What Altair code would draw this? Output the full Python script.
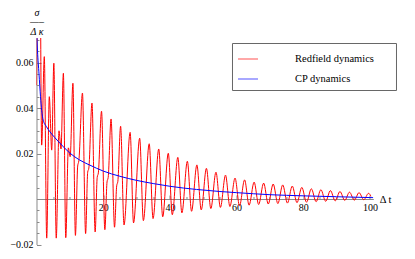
import altair as alt
import pandas as pd

# ---------------- data ----------------
series_names = ["Redfield dynamics", "CP dynamics"]
series_colors = ["#ff0000", "#0000ff"]

# Redfield dynamics: turning points of the oscillating curve
red_t = [0, 0.9, 1.55, 2.34, 3.06, 3.84, 4.56, 5.20, 5.92, 6.75, 7.35, 8.06,
         8.78, 9.55, 10.10, 10.92, 11.67, 12.35, 12.70, 13.78, 14.73, 15.35,
         15.70, 16.64, 17.59, 18.20, 18.55, 19.50, 20.50, 21.15, 21.50, 22.36,
         23.40, 24.05, 24.40, 25.22, 26.25, 28.08, 29.10, 30.94, 32.05, 33.80,
         34.95, 36.66, 37.85, 39.52, 40.72, 42.38, 43.60, 45.24, 46.50, 48.10,
         49.40, 50.96, 52.28, 53.82, 55.15, 56.68, 58.00, 59.54, 60.88, 62.40,
         63.75, 65.26, 66.62, 68.12, 69.50, 70.98, 72.38, 73.84, 75.25, 76.70,
         78.12, 79.56, 80.98, 82.42, 83.85, 85.28, 86.72, 88.14, 89.58, 91.00,
         92.45, 93.86, 95.30, 96.72, 98.15, 99.58, 100.3]
red_v = [0.05, 0.14, 0.0237, 0.0626, -0.0172, 0.045, 0.0215, 0.0597, -0.0172,
         0.030, 0.022, 0.0553, -0.0170, 0.0225, 0.0186, 0.0509, -0.0160, 0.0145,
         0.0168, 0.0466, -0.0152, 0.0118, 0.0136, 0.0422, -0.0145, 0.0095,
         0.0115, 0.0386, -0.0135, 0.0075, 0.0095, 0.0352, -0.0124, 0.0058,
         0.0078, 0.0320, -0.0114, 0.0293, -0.0105, 0.0267, -0.0095, 0.0243,
         -0.0086, 0.0220, -0.0078, 0.0201, -0.0069, 0.0183, -0.0061, 0.0166,
         -0.0054, 0.0150, -0.0048, 0.0135, -0.0042, 0.0118, -0.0037, 0.0105,
         -0.0033, 0.0092, -0.0030, 0.0084, -0.0027, 0.0074, -0.0024, 0.0070,
         -0.0022, 0.0066, -0.0020, 0.0062, -0.0018, 0.0057, -0.0016, 0.0051,
         -0.0014, 0.0045, -0.0012, 0.0041, -0.0010, 0.0037, -0.0008, 0.0033,
         -0.0006, 0.0030, -0.0005, 0.0028, -0.0003, 0.0025, 0.0012]

# CP dynamics: smooth decay
blue_t = [0, 0.3, 0.75, 1.2, 1.55, 2, 3, 4, 5.5, 7, 10, 13, 16, 20, 25, 30,
          35, 40, 48, 55, 60, 70, 80, 90, 101]
blue_v = [0.075, 0.065, 0.055, 0.045, 0.039, 0.0347, 0.0318, 0.0296, 0.027,
          0.0246, 0.0202, 0.0171, 0.0149, 0.0123, 0.0100, 0.0082, 0.0068,
          0.0056, 0.0042, 0.0033, 0.0028, 0.0019, 0.0014, 0.0010, 0.0006]

x_labels = [20, 40, 60, 80, 100]
y_labels = [-0.02, 0.02, 0.04, 0.06]
x_minor = [5, 10, 15, 25, 30, 35, 45, 50, 55, 65, 70, 75, 85, 90, 95]
y_minor = [-0.015, -0.01, -0.005, 0.005, 0.01, 0.015, 0.025, 0.03, 0.035,
           0.045, 0.05, 0.055, 0.065, 0.07]

x_dom = [0, 101]
y_dom = [-0.02, 0.0708]

# ---------------- layout ----------------
W = 336.8
H = 206.5
zero_px = H * y_dom[1] / (y_dom[1] - y_dom[0])   # pixel row of v = 0
GRAY = "#8a8a8a"
FONT = "Liberation Serif"

red_df = pd.DataFrame({"t": red_t, "v": red_v, "s": series_names[0]})
blue_df = pd.DataFrame({"t": blue_t, "v": blue_v, "s": series_names[1]})

xs = alt.Scale(domain=x_dom, nice=False, zero=False)
ys = alt.Scale(domain=y_dom, nice=False, zero=False)

pad_right = "\u2800" * 2   # blank glyphs that keep room at the right of the box
color_scale = alt.Scale(domain=series_names, range=series_colors)
legend = alt.Legend(
    orient="none", legendX=195.5, legendY=5, title=None,
    symbolType="stroke", symbolSize=400, symbolStrokeWidth=1.5,
    symbolOpacity=0.45, labelFont=FONT, labelFontSize=10.5, labelColor="black",
    labelOffset=36, padding=5, rowPadding=3, strokeColor="#666666",
    fillColor="white",
    labelExpr="datum.label + '" + pad_right + "'",
)
color_enc = alt.Color("s:N", scale=color_scale, legend=legend)

# layer 1: red line, axis lines + labels
red = alt.Chart(red_df).mark_line(
    strokeWidth=1, interpolate="monotone", clip=True
).encode(
    x=alt.X("t:Q", scale=xs, title="Δ t", axis=alt.Axis(
        orient="bottom", offset=-(H - zero_px), values=x_labels, ticks=False,
        tickSize=0, labelPadding=3, labelFont=FONT, labelFontSize=10,
        labelColor="black", domainColor=GRAY, domainWidth=1, grid=False,
        titleX=W + 6, titleY=0, titleAlign="left", titleBaseline="middle",
        titleAngle=0, titleFont=FONT, titleFontSize=10.5,
        titleFontWeight="normal", titleColor="black")),
    y=alt.Y("v:Q", scale=ys, title=["σ", "—–", "Δ κ"], axis=alt.Axis(
        orient="left", values=y_labels, format=".2f", ticks=False, tickSize=0,
        labelPadding=3.5, labelFont=FONT, labelFontSize=10,
        labelColor="black", domainColor=GRAY, domainWidth=1, grid=False,
        titleX=0, titleY=-31, titleAlign="center", titleBaseline="top",
        titleAngle=0, titleFont=FONT, titleFontSize=10, titleLineHeight=10,
        titleFontStyle="italic", titleFontWeight="normal",
        titleColor="black")),
    color=color_enc,
)

# layer 2: blue line, major ticks pointing into the plot
blue = alt.Chart(blue_df).mark_line(
    strokeWidth=1, interpolate="monotone", clip=True
).encode(
    x=alt.X("t:Q", scale=xs, title="", axis=alt.Axis(
        orient="top", offset=-zero_px, values=x_labels, labels=False,
        domain=False, tickSize=4, tickColor=GRAY, grid=False)),
    y=alt.Y("v:Q", scale=ys, title="", axis=alt.Axis(
        orient="right", offset=-W, values=y_labels, labels=False,
        domain=False, tickSize=4.5, tickColor=GRAY, grid=False)),
    color=color_enc,
)

# layer 3: invisible carrier of the minor ticks
minor = alt.Chart(red_df).mark_line(opacity=0).encode(
    x=alt.X("t:Q", scale=xs, title="", axis=alt.Axis(
        orient="top", offset=-zero_px, values=x_minor, labels=False,
        domain=False, tickSize=2.5, tickColor=GRAY, grid=False)),
    y=alt.Y("v:Q", scale=ys, title="", axis=alt.Axis(
        orient="right", offset=-W, values=y_minor, labels=False,
        domain=False, tickSize=2.5, tickColor=GRAY, grid=False)),
)

chart = alt.layer(red, blue, minor).resolve_axis(
    x="independent", y="independent"
).properties(
    width=W, height=H,
    autosize=alt.AutoSizeParams(type="none"),
    padding={"left": 28.5, "top": 30, "right": 30, "bottom": 6},
).configure_view(stroke="transparent")

chart.save("out.html", embed_options={"renderer": "svg", "actions": False})
